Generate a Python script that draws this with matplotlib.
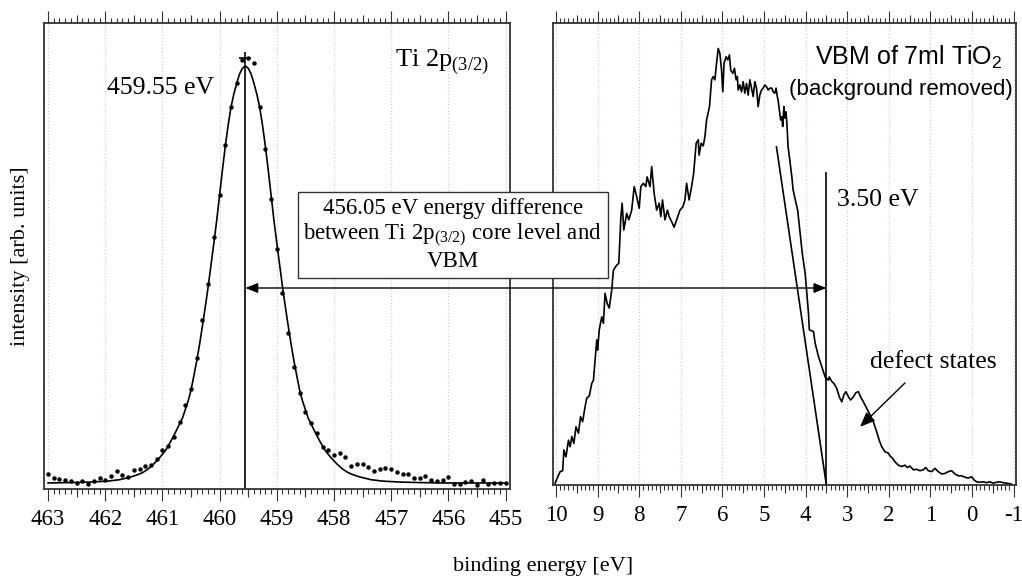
import matplotlib
matplotlib.use("Agg")
import matplotlib.pyplot as plt
from matplotlib.patches import ConnectionPatch
from matplotlib.ticker import MultipleLocator, NullLocator
from matplotlib.transforms import blended_transform_factory
import numpy as np

plt.rcParams['font.family'] = 'Liberation Serif'
plt.rcParams['mathtext.fontset'] = 'custom'
plt.rcParams['mathtext.rm'] = 'Liberation Serif'
plt.rcParams['mathtext.sf'] = 'Liberation Sans'
plt.rcParams['axes.unicode_minus'] = False

## Ti 2p(3/2) core level: measured points (binding energy, intensity)
ti_e = [463.0, 462.9, 462.8, 462.7, 462.6, 462.5, 462.4, 462.3, 462.2, 462.1,
        462.0, 461.9, 461.8, 461.7, 461.6, 461.5, 461.4, 461.3, 461.2, 461.1,
        461.0, 460.9, 460.8, 460.7, 460.6, 460.5, 460.4, 460.3, 460.2, 460.1,
        460.0, 459.9, 459.8, 459.7, 459.6, 459.5, 459.4, 459.3, 459.2, 459.1,
        459.0, 458.9, 458.8, 458.7, 458.6, 458.5, 458.4, 458.3, 458.2, 458.1,
        458.0, 457.9, 457.8, 457.7, 457.6, 457.5, 457.4, 457.3, 457.2, 457.1,
        457.0, 456.9, 456.8, 456.7, 456.6, 456.5, 456.4, 456.3, 456.2, 456.1,
        456.0, 455.9, 455.8, 455.7, 455.6, 455.5, 455.4, 455.3, 455.2, 455.1,
        455.0]
ti_i = [3.2, 2.3, 2.2, 1.9, 1.8, 1.4, 1.8, 1.0, 1.7, 2.4,
        1.9, 2.7, 3.9, 3.1, 2.6, 4.1, 4.2, 4.9, 5.1, 6.5,
        8.3, 9.2, 11.1, 14.3, 18.0, 21.5, 28.1, 36.3, 44.1, 54.0,
        63.2, 73.8, 82.0, 87.2, 92.1, 92.4, 91.5, 82.0, 72.9, 62.2,
        51.5, 42.0, 33.4, 26.2, 20.5, 16.6, 14.2, 12.1, 9.1, 8.4,
        7.3, 7.8, 6.9, 4.9, 5.4, 5.4, 4.8, 3.9, 4.4, 4.5,
        4.4, 3.7, 3.2, 3.2, 2.3, 2.4, 2.9, 1.9, 1.8, 1.9,
        2.5, 1.0, 1.0, 1.5, 1.7, 0.9, 1.9, 1.0, 1.2, 1.4,
        1.4]

## fitted peak
fit_e = [463.0, 462.55, 462.25, 461.95, 461.75, 461.55, 461.45, 461.35, 461.25, 461.15,
         461.05, 460.95, 460.85, 460.75, 460.65, 460.55, 460.5, 460.45, 460.4, 460.35,
         460.3, 460.25, 460.2, 460.15, 460.1, 460.05, 460.0, 459.95, 459.9, 459.85,
         459.8, 459.75, 459.7, 459.65, 459.6, 459.55,
         459.5, 459.45, 459.4, 459.35, 459.3, 459.25, 459.2, 459.15, 459.1, 459.05,
         459.0, 458.95, 458.9, 458.85, 458.8, 458.75, 458.7, 458.65, 458.6, 458.55,
         458.45, 458.35, 458.25, 458.15, 458.05, 457.95, 457.85, 457.75, 457.65, 457.55,
         457.35, 457.15, 456.85, 456.55, 456.1, 455.0]
fit_i = [1.3, 1.4, 1.5, 1.7, 2.0, 2.6, 3.0, 3.5, 4.3, 5.4,
         6.7, 8.2, 10.3, 12.7, 15.2, 18.9, 21.2, 24.3, 27.5, 31.1,
         35.0, 39.1, 43.4, 48.1, 52.8, 57.7, 63.1, 68.5, 73.6, 78.1,
         82.0, 84.8, 87.1, 89.1, 90.3, 90.8,
         90.3, 89.1, 87.1, 84.8, 82.0, 78.1, 73.6, 68.5, 63.1, 57.7,
         52.8, 48.1, 43.4, 39.1, 35.0, 31.1, 27.5, 24.3, 21.2, 18.9,
         15.2, 12.7, 10.3, 8.2, 6.7, 5.4, 4.3, 3.5, 3.0, 2.6,
         2.0, 1.7, 1.5, 1.4, 1.3, 1.3]

peak_pos = 459.55
peak_top = 91.0
peak_marker = 92.4

## valence band, background removed
vbm_e = [10.02, 9.97, 9.90, 9.84, 9.81, 9.76, 9.70, 9.66, 9.62, 9.57,
         9.52, 9.46, 9.41, 9.36, 9.30, 9.26, 9.20, 9.14, 9.10, 9.06,
         9.02, 9.00, 8.96, 8.90, 8.86, 8.82, 8.77, 8.72, 8.66, 8.62,
         8.54, 8.49, 8.44, 8.41, 8.37, 8.30, 8.25, 8.18, 8.12, 8.06,
         8.00, 7.96, 7.90, 7.84, 7.81, 7.74, 7.70, 7.64, 7.58, 7.52,
         7.48, 7.44, 7.38, 7.32, 7.28, 7.22, 7.16, 7.10, 7.02, 6.95,
         6.90, 6.86, 6.80, 6.74, 6.69, 6.63, 6.58, 6.56, 6.51, 6.46,
         6.42, 6.38, 6.31, 6.26, 6.22, 6.18, 6.14, 6.10, 6.06, 6.02,
         5.99, 5.96, 5.91, 5.87, 5.83, 5.80, 5.75, 5.71, 5.67, 5.64,
         5.62, 5.58, 5.54, 5.50, 5.46, 5.42, 5.38, 5.34, 5.30, 5.26,
         5.22, 5.18, 5.14, 5.10, 5.06, 5.02, 4.98, 4.94, 4.90, 4.86,
         4.81, 4.78, 4.74, 4.71, 4.68, 4.66, 4.63, 4.60, 4.57, 4.55,
         4.52, 4.50, 4.47, 4.45, 4.42, 4.38, 4.33, 4.30, 4.23, 4.19,
         4.13, 4.08, 4.01, 3.97, 3.93, 3.91, 3.81, 3.77, 3.69, 3.61,
         3.53, 3.45, 3.43, 3.37, 3.32, 3.25, 3.19, 3.13, 3.08, 3.03,
         2.97, 2.92, 2.85, 2.79, 2.73, 2.68, 2.61, 2.53, 2.45, 2.37,
         2.29, 2.23, 2.17, 2.09, 2.01, 1.97, 1.91, 1.85, 1.77, 1.69,
         1.61, 1.56, 1.49, 1.41, 1.33, 1.25, 1.17, 1.11, 1.05, 0.97,
         0.89, 0.81, 0.73, 0.65, 0.57, 0.49, 0.41, 0.33, 0.25, 0.17,
         0.09, 0.01, -0.05, -0.11, -0.19, -0.27, -0.35, -0.43, -0.51, -0.59,
         -0.67, -0.75, -0.83, -0.95]
vbm_i = [0.4, 1.5, 2.9, 3.1, 7.6, 6.1, 9.7, 8.3, 10.5, 9.0,
         12.6, 11.2, 14.8, 13.7, 17.0, 18.8, 19.3, 22.0, 22.7, 27.1,
         31.4, 29.2, 33.6, 36.4, 35.0, 41.5, 39.3, 38.3, 42.2, 46.5,
         47.6, 48.0, 58.1, 61.0, 55.2, 58.8, 57.4, 59.5, 64.6, 62.4,
         59.9, 64.6, 65.3, 64.6, 66.7, 64.6, 68.9, 63.1, 59.5, 61.0,
         58.1, 61.7, 57.4, 59.5, 58.1, 57.0, 55.8, 57.4, 59.5, 60.2,
         61.7, 65.3, 61.7, 64.6, 67.5, 74.0, 74.7, 71.4, 74.0, 73.4,
         75.4, 79.0, 81.9, 87.7, 88.4, 87.7, 91.3, 94.5, 93.4, 89.8,
         85.1, 91.3, 92.7, 92.0, 93.1, 89.8, 89.1, 90.2, 87.7, 88.4,
         85.5, 86.6, 85.1, 87.3, 84.8, 86.9, 84.4, 87.7, 85.9, 84.1,
         87.3, 85.9, 81.9, 84.4, 85.5, 85.9, 86.6, 86.2, 85.5, 85.9,
         85.9, 85.1, 84.8, 85.9, 84.1, 83.3, 81.2, 79.0, 79.7, 77.6,
         81.9, 79.4, 80.8, 78.3, 73.2, 70.4, 66.7, 63.9, 61.0, 59.5,
         54.5, 50.2, 45.8, 41.5, 37.2, 33.6, 33.2, 30.7, 27.8, 25.6,
         23.4, 22.7, 23.4, 22.4, 22.0, 20.9, 19.1, 18.0, 19.5, 20.2,
         19.1, 18.4, 19.1, 20.0, 20.2, 19.1, 18.0, 16.6, 15.2, 13.7,
         11.5, 9.7, 8.3, 7.2, 6.9, 6.3, 5.8, 5.0, 4.3, 4.0,
         4.3, 3.8, 4.1, 3.3, 3.4, 3.1, 3.3, 3.8, 3.1, 2.9,
         3.6, 2.9, 2.4, 2.5, 2.9, 3.1, 2.4, 2.0, 2.0, 1.7,
         1.5, 1.8, 1.1, 0.7, 0.6, 0.7, 0.5, 0.7, 0.4, 0.6,
         0.7, 0.5, 0.4, 0.2]

## linear extrapolation of the leading edge
edge_e = [4.70, 3.50]
edge_i = [73.2, 0.0]
vbm_onset = 3.50
onset_top = 67.5

FRAME = '#333333'


def style_axis(ax, lo, hi):
    ax.set_xlim(lo, hi)
    ax.set_ylim(0, 100)
    ax.set_yticks([])
    ax.xaxis.set_major_locator(MultipleLocator(1))
    ax.xaxis.set_minor_locator(MultipleLocator(0.1))
    ax.tick_params(axis='x', which='both', direction='out', top=True,
                   bottom=True, width=0.8, color=FRAME)
    ax.tick_params(axis='x', which='major', length=8.5, labelsize=16.5, pad=6)
    ax.tick_params(axis='x', which='minor', length=3.5)
    for s in ax.spines.values():
        s.set_linewidth(1.3)
        s.set_color(FRAME)
    ax.grid(axis='x', which='major', color='#c8d0f8', ls=':', lw=0.9)
    ax.set_axisbelow(True)

    # half-unit ticks, a bit longer than the minor ones
    lo_i, hi_i = sorted([lo, hi])
    halves = np.arange(np.ceil(lo_i - 0.5) + 0.5, hi_i, 1.0)
    for loc in ['top', 'bottom']:
        sec = ax.secondary_xaxis(loc)
        sec.set_xticks(halves)
        sec.xaxis.set_minor_locator(NullLocator())
        sec.tick_params(axis='x', which='major', direction='out', length=6,
                        width=0.8, color=FRAME, labelbottom=False, labeltop=False)
        sec.spines[loc].set_visible(False)


fig = plt.figure(figsize=(10.22, 5.81), dpi=100)
ax1 = fig.add_axes([0.0431, 0.1583, 0.4560, 0.8021])
ax2 = fig.add_axes([0.5411, 0.1652, 0.4530, 0.7952])

style_axis(ax1, 463.07, 454.92)
style_axis(ax2, 10.072, -1.058)

## left panel
ax1.plot(fit_e, fit_i, color='k', lw=1.2)
ax1.plot(ti_e, ti_i, 'o', color='k', ms=3.2, mew=0)
ax1.plot([peak_pos, peak_pos], [0, peak_top], color='k', lw=1.2)
ax1.plot([peak_pos], [peak_marker], '+', color='k', ms=8, mew=1.2)
ax1.text(461.97, 86.0, '459.55 eV', fontsize=18.5, ha='left', va='center')
ax1.text(456.93, 90.6, 'Ti 2p$_{(3/2)}$', fontsize=19, ha='left',
         va='baseline')

## right panel
ax2.plot(vbm_e, vbm_i, color='k', lw=1.2)
ax2.plot(edge_e, edge_i, color='k', lw=1.2)
ax2.plot([vbm_onset, vbm_onset], [0, onset_top], color='k', lw=1.2)
ax2.text(3.25, 61.7, '3.50 eV', fontsize=18.5, ha='left', va='center')
ax2.text(-0.745, 90.9, 'VBM of 7ml TiO$\\mathsf{_2}$', family='Liberation Sans',
         fontsize=18, ha='right', va='baseline')
ax2.text(-0.99, 85.5, '(background removed)', family='Liberation Sans',
         fontsize=16, ha='right', va='center')
ax2.text(2.45, 26.6, 'defect states', fontsize=18.5, ha='left', va='center')
ax2.annotate('', xy=(2.69, 12.6), xytext=(1.61, 22.1),
             arrowprops=dict(arrowstyle='-|>,head_length=0.6,head_width=0.25',
                             color='k', lw=1.0, mutation_scale=15,
                             shrinkA=0, shrinkB=0))

## energy difference arrow spanning both panels
arrow_y = 0.5043
con = ConnectionPatch(
    xyA=(peak_pos, arrow_y),
    coordsA=blended_transform_factory(ax1.transData, fig.transFigure),
    xyB=(vbm_onset, arrow_y),
    coordsB=blended_transform_factory(ax2.transData, fig.transFigure),
    arrowstyle='<|-|>,head_length=0.5,head_width=0.2', mutation_scale=15,
    color='k', lw=1.0)
fig.add_artist(con)

fig.text(0.443, 0.5955,
         '456.05 eV energy difference\nbetween Ti 2p$_{(3/2)}$ core level and\nVBM',
         fontsize=16.5, ha='center', va='center', linespacing=1.12,
         bbox=dict(boxstyle='square,pad=0.25', fc='white', ec=FRAME, lw=1.0),
         zorder=5)

fig.text(21 / 1022, 1 - 256 / 581, 'intensity [arb. units]', rotation=90,
         fontsize=16, ha='center', va='center')
fig.text(543 / 1022, 1 - 567 / 581, 'binding energy [eV]', fontsize=16,
         ha='center', va='center')

plt.savefig('out.png', dpi=100)
